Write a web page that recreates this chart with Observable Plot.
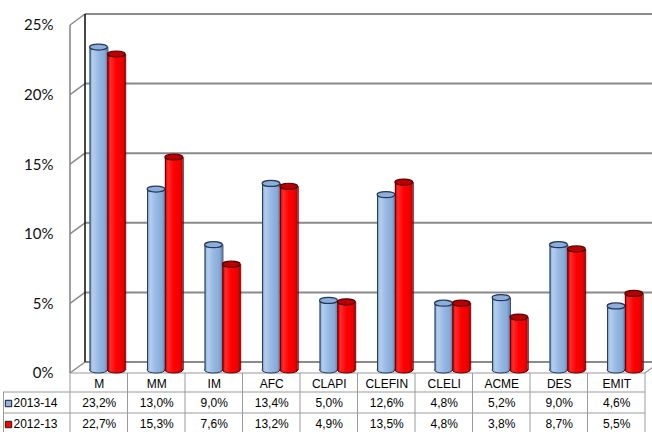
<!DOCTYPE html>
<html>
<head>
<meta charset="utf-8">
<script src="https://cdn.jsdelivr.net/npm/d3@7"></script>
<script src="https://cdn.jsdelivr.net/npm/@observablehq/plot@0.6"></script>
<style>
  html, body { margin: 0; padding: 0; background: #fff; }
  #chart svg { display: block; }
</style>
</head>
<body>
<div id="chart"></div>
<script>
const categories = ["M", "MM", "IM", "AFC", "CLAPI", "CLEFIN", "CLELI", "ACME", "DES", "EMIT"];
const seriesNames = ["2013-14", "2012-13"];
const values2013 = [23.2, 13.0, 9.0, 13.4, 5.0, 12.6, 4.8, 5.2, 9.0, 4.6];
const values2012 = [22.7, 15.3, 7.6, 13.2, 4.9, 13.5, 4.8, 3.8, 8.7, 5.5];
const yTicks = [0, 5, 10, 15, 20, 25];

const fmt = v => v.toFixed(1).replace(".", ",") + "%";
const seriesValues = [values2013, values2012];
const seriesStyle = [
  {grad: "url(#gBlue)", cap: "#8DAEDA", stroke: "#24395A", key: "#8DB4E2"},
  {grad: "url(#gRed)", cap: "#B80000", stroke: "#5A0000", key: "#FF0000"}
];
const slot = [[0.34, 0.65], [0.65, 0.96]];

const rows = seriesNames.map((s, k) => categories.map((c, i) => ({
  s, c, i, v: seriesValues[k][i],
  x1: i + slot[k][0], x2: i + slot[k][1], cx: i + 0.5
})));

const NS = "http://www.w3.org/2000/svg";
function el(tag, attrs) {
  const e = document.createElementNS(NS, tag);
  for (const k in attrs) e.setAttribute(k, attrs[k]);
  return e;
}

// gradient definitions
function defsMark() {
  const g = el("g", {});
  const defs = el("defs", {});
  const mk = (id, stops) => {
    const lg = el("linearGradient", {id, x1: "0", y1: "0", x2: "1", y2: "0"});
    stops.forEach(([o, c]) => lg.appendChild(el("stop", {offset: o, "stop-color": c})));
    defs.appendChild(lg);
  };
  mk("gBlue", [["0", "#7C9FCC"], ["0.18", "#B5CEEE"], ["0.5", "#97B9E4"], ["0.85", "#86A9D6"], ["1", "#5F82B0"]]);
  mk("gRed", [["0", "#C80000"], ["0.18", "#FF2A2A"], ["0.5", "#FF0000"], ["0.85", "#F00000"], ["1", "#B00000"]]);
  g.appendChild(defs);
  return g;
}

const DX = 15, DY = -8, FY = 3;

// 3D frame: back wall, gridlines, front axis, floor
function frameMark(index, {x, y}, values, dims) {
  const g = el("g", {fill: "none"});
  const line = (x1, y1, x2, y2, stroke, w) =>
    g.appendChild(el("line", {x1, y1, x2, y2, stroke, "stroke-width": w}));
  const X0 = x(0), X1 = x(10);
  yTicks.forEach(t => {
    line(X0 + DX, y(t) + DY, dims.width + 5, y(t) + DY, "#8A8A8A", 2);
    line(X0, y(t) + FY, X0 + DX, y(t) + DY, "#8A8A8A", 1.5);
  });
  line(X0 + DX, y(25) + DY, X0 + DX, y(0) + DY, "#1A1A1A", 1.6);
  line(X0, y(25) + FY, X0, y(0) + FY, "#8A8A8A", 1.6);
  line(X0, y(0) + FY, X1, y(0) + FY, "#9A9A9A", 1.2);
  line(X1, y(0) + FY, X1 + DX, y(0) + DY, "#9A9A9A", 1.2);
  return g;
}

// data table grid
function tableMark(index, {x, y}, values, dims) {
  const g = el("g", {fill: "none"});
  const line = (x1, y1, x2, y2, stroke, w) =>
    g.appendChild(el("line", {x1, y1, x2, y2, stroke, "stroke-width": w}));
  const Y0 = y(0), X0 = x(0), X1 = x(10);
  const top = Y0 + FY, r1 = Y0 + 22, r2 = Y0 + 43, bot = Y0 + 63;
  line(3, r1, X1, r1, "#9A9A9A", 1);
  line(3, r2, X1, r2, "#9A9A9A", 1);
  line(3, bot, X1, bot, "#9A9A9A", 1);
  line(3.5, r1, 3.5, bot, "#9A9A9A", 1);
  for (let k = 0; k <= 10; k++) line(x(k), top, x(k), bot, "#9A9A9A", 1);
  return g;
}

const marks = [defsMark, frameMark];
rows.forEach((data, k) => {
  const st = seriesStyle[k];
  marks.push(
    Plot.rect(data, {x1: "x1", x2: "x2", y1: 0, y2: 0, insetTop: -3, insetBottom: -3, rx: 9, ry: 3, fill: st.grad, stroke: st.stroke, strokeWidth: 1}),
    Plot.rect(data, {x1: "x1", x2: "x2", y1: 0, y2: "v", fill: st.grad}),
    Plot.ruleX(data, {x: "x1", y1: 0, y2: "v", stroke: st.stroke, strokeWidth: 1}),
    Plot.ruleX(data, {x: "x2", y1: 0, y2: "v", stroke: st.stroke, strokeWidth: 1}),
    Plot.rect(data, {x1: "x1", x2: "x2", y1: "v", y2: "v", insetTop: -3, insetBottom: -3, rx: 9, ry: 3, fill: st.cap, stroke: st.stroke, strokeWidth: 1.2})
  );
});

// y tick labels
marks.push(Plot.text(yTicks, {x: 0, y: d => d, text: d => d + "%", dx: -17, dy: FY, textAnchor: "end", fontSize: 15, fontFamily: "Lato", fill: "#111"}));

// table
marks.push(tableMark);
marks.push(Plot.text(categories, {x: (d, i) => i + 0.5, y: 0, text: d => d, dy: 14, fontSize: 12, fontFamily: "Liberation Sans", fill: "#000"}));
rows.forEach((data, k) => {
  const st = seriesStyle[k];
  const dy = 33 + 21 * k;
  marks.push(
    Plot.text(data, {x: "cx", y: 0, text: d => fmt(d.v), dy, fontSize: 12, fontFamily: "Liberation Sans", fill: "#000"}),
    Plot.dot([seriesNames[k]], {x: 0, y: 0, dx: -62, dy, symbol: "square", r: 3.6, fill: st.key, stroke: "#1A1A1A", strokeWidth: 1}),
    Plot.text([seriesNames[k]], {x: 0, y: 0, text: d => d, dx: -57, dy, textAnchor: "start", fontSize: 12, fontFamily: "Liberation Sans", fill: "#000"})
  );
});

const chart = Plot.plot({
  width: 652,
  height: 432,
  marginLeft: 70,
  marginRight: 7,
  marginTop: 22,
  marginBottom: 62,
  x: {domain: [0, 10], axis: null},
  y: {domain: [0, 25], axis: null},
  style: {background: "#fff", overflow: "visible"},
  marks
});
document.getElementById("chart").appendChild(chart);
</script>
</body>
</html>
